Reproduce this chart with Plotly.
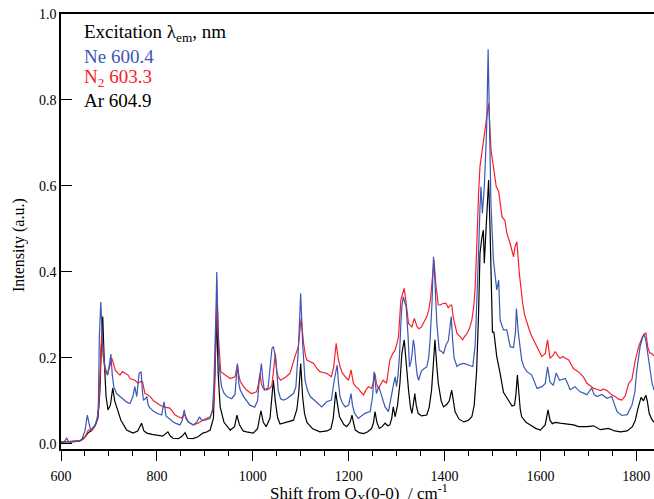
import plotly.graph_objects as go

# ---- Ne 600.4 (blue) ----
ne_x = [600,607,612,617,630,643,650,655,659,662,667,671,676,678,680,683,686,689,692,697,701,704,707,710,716,723,730,737,744,750,754,758,763,767,770,772,776,779,782,786,793,800,810,815,819,827,834,841,848,853,857,861,866,876,883,889,893,900,911,916,919,923,925,927,929,932,935,940,946,956,963,966,968,971,974,981,987,994,1004,1010,1013,1016,1018,1021,1024,1032,1037,1040,1043,1047,1050,1053,1058,1064,1071,1078,1085,1090,1095,1100,1104,1109,1114,1120,1127,1134,1144,1154,1164,1170,1176,1179,1182,1187,1193,1200,1205,1208,1212,1220,1227,1234,1245,1250,1253,1256,1258,1263,1269,1276,1283,1287,1290,1294,1297,1300,1303,1306,1309,1311,1314,1317,1320,1324,1327,1330,1332,1335,1337,1340,1343,1346,1352,1357,1363,1367,1370,1374,1377,1380,1382,1384,1389,1394,1398,1403,1408,1411,1414,1417,1420,1426,1432,1440,1450,1459,1464,1468,1471,1474,1476,1479,1483,1486,1488,1491,1494,1497,1502,1509,1513,1516,1523,1530,1537,1544,1548,1550,1554,1558,1561,1566,1572,1582,1588,1593,1603,1610,1615,1620,1627,1633,1640,1646,1652,1657,1662,1672,1683,1690,1697,1707,1712,1718,1728,1739,1749,1755,1760,1770,1781,1791,1797,1801,1808,1814,1817,1820,1824,1829,1833,1837]
ne_y = [0.003,0.005,0.013,0.003,0.005,0.009,0.03,0.067,0.045,0.032,0.038,0.044,0.06,0.094,0.25,0.33,0.25,0.2,0.179,0.16,0.185,0.209,0.16,0.133,0.117,0.11,0.102,0.097,0.094,0.11,0.133,0.11,0.164,0.168,0.12,0.102,0.105,0.11,0.09,0.083,0.076,0.071,0.067,0.098,0.065,0.057,0.051,0.047,0.044,0.055,0.079,0.058,0.05,0.044,0.05,0.063,0.055,0.055,0.059,0.08,0.14,0.3,0.40,0.3,0.2,0.16,0.133,0.118,0.11,0.105,0.115,0.16,0.187,0.14,0.125,0.11,0.1,0.09,0.085,0.1,0.14,0.18,0.187,0.15,0.125,0.13,0.18,0.222,0.226,0.205,0.17,0.125,0.105,0.102,0.105,0.11,0.117,0.133,0.218,0.35,0.234,0.148,0.125,0.11,0.103,0.098,0.086,0.098,0.102,0.148,0.183,0.14,0.11,0.095,0.086,0.09,0.117,0.09,0.072,0.059,0.065,0.071,0.075,0.11,0.168,0.14,0.117,0.133,0.11,0.086,0.075,0.1,0.125,0.14,0.156,0.133,0.16,0.203,0.28,0.319,0.342,0.33,0.319,0.25,0.179,0.19,0.205,0.242,0.23,0.19,0.16,0.148,0.17,0.175,0.179,0.2,0.242,0.33,0.435,0.38,0.32,0.28,0.218,0.215,0.21,0.23,0.24,0.27,0.296,0.24,0.2,0.18,0.185,0.187,0.183,0.18,0.23,0.33,0.443,0.55,0.598,0.536,0.598,0.68,0.738,0.918,0.761,0.552,0.428,0.358,0.381,0.288,0.265,0.265,0.226,0.224,0.26,0.315,0.258,0.22,0.195,0.178,0.168,0.16,0.145,0.129,0.133,0.14,0.179,0.144,0.136,0.165,0.148,0.15,0.152,0.14,0.126,0.133,0.121,0.118,0.114,0.13,0.115,0.11,0.115,0.106,0.11,0.09,0.075,0.066,0.068,0.09,0.12,0.17,0.226,0.25,0.253,0.24,0.21,0.17,0.141,0.125]

# ---- N2 603.3 (red) ----
n2_x = [600,620,640,646,652,657,661,664,670,674,679,682,685,688,692,697,702,706,710,713,718,723,728,734,740,744,750,754,761,766,770,775,780,786,793,800,807,814,820,827,833,838,845,851,858,862,866,876,886,896,905,911,916,920,923,925,927,929,933,942,953,963,968,971,974,980,987,997,1008,1012,1015,1018,1021,1029,1036,1040,1044,1047,1050,1053,1058,1064,1070,1078,1083,1088,1095,1101,1106,1110,1113,1120,1127,1134,1140,1147,1154,1164,1169,1174,1178,1182,1187,1193,1200,1205,1208,1210,1215,1220,1226,1231,1236,1241,1248,1252,1255,1258,1262,1267,1272,1279,1283,1286,1292,1297,1301,1304,1309,1313,1316,1320,1325,1332,1337,1343,1347,1352,1358,1363,1367,1371,1375,1378,1382,1387,1391,1398,1403,1408,1412,1415,1418,1422,1426,1432,1438,1442,1446,1452,1457,1461,1464,1467,1469,1471,1474,1478,1481,1485,1488,1492,1495,1497,1502,1508,1513,1517,1520,1526,1530,1537,1544,1547,1551,1556,1560,1563,1567,1572,1577,1582,1588,1593,1598,1603,1610,1615,1620,1626,1631,1636,1641,1647,1652,1659,1664,1669,1676,1683,1690,1697,1704,1711,1718,1725,1732,1739,1745,1749,1756,1763,1770,1777,1784,1791,1798,1805,1812,1816,1820,1824,1828,1832,1837]
n2_y = [0.005,0.005,0.008,0.01,0.02,0.032,0.032,0.03,0.04,0.048,0.086,0.2,0.265,0.203,0.172,0.16,0.183,0.199,0.185,0.172,0.165,0.16,0.168,0.164,0.16,0.152,0.15,0.148,0.141,0.145,0.145,0.117,0.115,0.11,0.1,0.094,0.09,0.086,0.085,0.083,0.075,0.067,0.063,0.06,0.067,0.058,0.051,0.044,0.048,0.055,0.06,0.063,0.075,0.11,0.25,0.342,0.3,0.24,0.168,0.16,0.152,0.156,0.183,0.16,0.145,0.135,0.125,0.117,0.121,0.14,0.164,0.14,0.13,0.125,0.13,0.136,0.18,0.21,0.17,0.156,0.148,0.152,0.156,0.165,0.185,0.203,0.226,0.292,0.234,0.205,0.195,0.19,0.187,0.175,0.168,0.166,0.164,0.156,0.18,0.234,0.2,0.18,0.165,0.156,0.148,0.172,0.15,0.141,0.133,0.129,0.12,0.114,0.125,0.133,0.129,0.145,0.164,0.14,0.129,0.138,0.148,0.141,0.17,0.195,0.21,0.218,0.235,0.249,0.335,0.35,0.362,0.327,0.28,0.272,0.292,0.272,0.268,0.272,0.285,0.296,0.31,0.339,0.39,0.428,0.37,0.323,0.323,0.327,0.327,0.316,0.323,0.323,0.296,0.275,0.257,0.25,0.242,0.25,0.255,0.268,0.288,0.32,0.366,0.45,0.528,0.58,0.645,0.68,0.707,0.74,0.769,0.792,0.73,0.684,0.645,0.598,0.587,0.555,0.528,0.52,0.49,0.466,0.435,0.458,0.47,0.397,0.355,0.327,0.3,0.28,0.265,0.25,0.236,0.226,0.215,0.203,0.21,0.242,0.199,0.205,0.215,0.205,0.199,0.203,0.199,0.195,0.185,0.175,0.17,0.164,0.155,0.141,0.135,0.129,0.127,0.124,0.127,0.124,0.118,0.114,0.11,0.104,0.102,0.112,0.14,0.15,0.195,0.226,0.247,0.255,0.258,0.225,0.212,0.21,0.205]

# ---- Ar 604.9 (black) ----
ar_x = [600,620,640,650,656,662,670,677,681,684,687,690,694,698,703,708,712,716,725,737,750,760,768,773,779,790,800,812,823,828,834,845,853,859,864,875,885,896,905,911,918,922,925,928,932,940,953,962,967,972,980,987,1001,1010,1017,1022,1028,1036,1040,1043,1047,1052,1057,1068,1078,1085,1092,1096,1100,1104,1108,1113,1125,1140,1155,1163,1168,1173,1177,1181,1190,1196,1203,1207,1211,1214,1222,1231,1240,1248,1252,1255,1259,1264,1270,1276,1282,1286,1290,1293,1297,1302,1307,1311,1316,1320,1325,1329,1332,1336,1338,1341,1345,1352,1363,1368,1373,1377,1380,1384,1387,1393,1398,1405,1410,1415,1419,1422,1430,1440,1450,1457,1462,1467,1471,1474,1478,1481,1483,1486,1488,1492,1495,1497,1500,1503,1506,1509,1516,1523,1533,1541,1546,1549,1552,1555,1558,1561,1570,1579,1590,1600,1610,1616,1620,1625,1631,1641,1655,1669,1680,1697,1711,1725,1742,1755,1767,1781,1792,1798,1803,1810,1815,1820,1823,1827,1832,1837]
ar_y = [0.004,0.005,0.007,0.016,0.025,0.03,0.04,0.06,0.12,0.22,0.296,0.2,0.11,0.079,0.09,0.13,0.1,0.086,0.055,0.032,0.025,0.03,0.048,0.03,0.025,0.022,0.02,0.018,0.028,0.018,0.013,0.012,0.018,0.026,0.013,0.012,0.016,0.025,0.028,0.032,0.06,0.18,0.30,0.16,0.086,0.05,0.032,0.04,0.067,0.045,0.03,0.028,0.025,0.035,0.077,0.05,0.04,0.06,0.11,0.148,0.1,0.06,0.046,0.05,0.053,0.055,0.08,0.12,0.187,0.11,0.07,0.05,0.035,0.028,0.03,0.035,0.06,0.121,0.09,0.063,0.045,0.04,0.05,0.067,0.045,0.032,0.026,0.024,0.028,0.036,0.05,0.075,0.05,0.036,0.04,0.048,0.042,0.044,0.06,0.086,0.063,0.09,0.141,0.21,0.242,0.18,0.125,0.085,0.071,0.1,0.117,0.09,0.071,0.065,0.067,0.085,0.125,0.19,0.242,0.18,0.141,0.1,0.086,0.092,0.1,0.125,0.095,0.075,0.058,0.051,0.055,0.063,0.09,0.17,0.3,0.443,0.48,0.497,0.42,0.49,0.536,0.614,0.5,0.4,0.26,0.26,0.23,0.203,0.164,0.12,0.102,0.088,0.09,0.115,0.16,0.11,0.08,0.063,0.05,0.044,0.036,0.032,0.044,0.079,0.055,0.047,0.05,0.048,0.046,0.044,0.04,0.04,0.042,0.033,0.036,0.03,0.028,0.03,0.04,0.055,0.08,0.108,0.1,0.113,0.1,0.071,0.058,0.05]

x_ticks = [600, 800, 1000, 1200, 1400, 1600, 1800]
y_ticks = [0.0, 0.2, 0.4, 0.6, 0.8, 1.0]

legend_lines = ["Excitation λ<sub>em</sub>, nm", "Ne 600.4", "N<sub>2</sub> 603.3", "Ar 604.9"]

BLUE = "#3a58b4"
RED = "#f7202a"
BLACK = "#000000"
FONT = "Liberation Serif"

fig = go.Figure()
fig.add_trace(go.Scatter(x=ar_x, y=ar_y, mode="lines", line=dict(color=BLACK, width=1.2), name="Ar"))
fig.add_trace(go.Scatter(x=n2_x, y=n2_y, mode="lines", line=dict(color=RED, width=1.2), name="N2"))
fig.add_trace(go.Scatter(x=ne_x, y=ne_y, mode="lines", line=dict(color=BLUE, width=1.2), name="Ne"))

fig.update_layout(
    width=654, height=499,
    margin=dict(l=61, r=0, t=14, b=50, autoexpand=False),
    paper_bgcolor="white", plot_bgcolor="white",
    showlegend=False,
    font=dict(family=FONT, color="black", size=14),
    xaxis=dict(
        range=[600, 1837], tickvals=x_ticks, ticks="outside", ticklen=10, tickwidth=1.2,
        tickcolor="black", showline=True, linecolor="black", linewidth=1.5, mirror=True,
        showgrid=False, zeroline=False, tickfont=dict(size=14, family=FONT), automargin=False,
        ticklabelstandoff=3,
        minor=dict(dtick=50, tick0=600, ticks="outside", ticklen=5, tickwidth=1, tickcolor="black", showgrid=False),
    ),
    yaxis=dict(
        range=[-0.012, 1.0], tickvals=y_ticks, tickformat=".1f", ticks="inside", ticklen=11,
        tickwidth=1.2, tickcolor="black", showline=True, linecolor="black", linewidth=1.5,
        showgrid=False, zeroline=False, tickfont=dict(size=14, family=FONT), automargin=False,
    ),
)

colors = [BLACK, BLUE, RED, BLACK]
ys = [0.956, 0.903, 0.852, 0.802]
for txt, c, yy in zip(legend_lines, colors, ys):
    fig.add_annotation(text=txt, xref="paper", yref="paper", x=0.036, y=yy,
                       xanchor="left", yanchor="middle", showarrow=False,
                       font=dict(family=FONT, size=19, color=c))

fig.add_annotation(text="Shift from Q<sub>X</sub>(0-0)  / cm<sup>-1</sup>", xref="paper", yref="paper",
                   x=(359 - 61) / 593, y=-(493 - 449) / 435, xanchor="center", yanchor="middle",
                   showarrow=False, font=dict(family=FONT, size=17, color="black"))
fig.add_annotation(text="Intensity (a.u.)", xref="paper", yref="paper",
                   x=-(61 - 19) / 593, y=(449 - 245) / 435, xanchor="center", yanchor="middle",
                   textangle=-90, showarrow=False, font=dict(family=FONT, size=16, color="black"))

fig.write_html("out.html", config={"displayModeBar": False},
               post_script="document.body.style.margin='0';document.body.style.overflow='hidden';")
